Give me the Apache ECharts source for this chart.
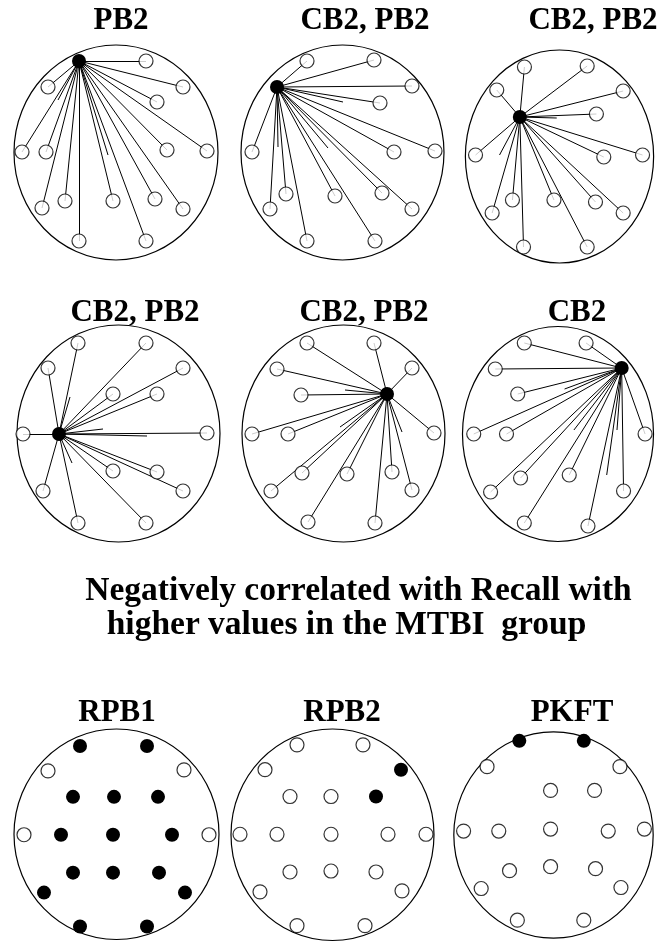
<!DOCTYPE html>
<html><head><meta charset="utf-8">
<script src="https://cdn.jsdelivr.net/npm/echarts@6/dist/echarts.min.js"></script>
<style>html,body{margin:0;padding:0;background:#fff;overflow:hidden}#c{width:661px;height:944px}</style>
</head><body><div id="c"></div>
<script>
// ---------------- DATA (electrode positions, head-centred units) ----------------
const panelTitles = ['PB2', 'CB2, PB2', 'CB2, PB2', 'CB2, PB2', 'CB2, PB2', 'CB2', 'RPB1', 'RPB2', 'PKFT'];
const captionLines = ['Negatively correlated with Recall with', 'higher values in the MTBI  group'];
const headRadii = [[102,107.5],[101.5,107.5],[102,106.5],[101.5,108.5],[101.5,108.5],[102,107.5],[102.5,105.5],[101.5,106.5],[102,104]];

// connectivity panels: hub electrode, connected electrodes, unfinished strokes
const hubs = [[-37,91.5],[-65.5,65.5],[-43,39.5],[-59.5,-0.5],[43.5,39.5],[68,66]];
const targets1 = [[30,91.5],[-68,65.5],[67,65.5],[41,50.5],[-94,0.5],[-70,0.5],[51,2.5],[91,1.5],[-74,-55.5],[-51,-48.5],[-3,-48.5],[39,-46.5],[67,-56.5],[-37,-88.5],[30,-88.5]];
const targets2 = [[-35.5,91.5],[31.5,92.5],[69.5,66.5],[37.5,49.5],[-90.5,0.5],[51.5,0.5],[92.5,1.5],[-72.5,-56.5],[-56.5,-41.5],[-7.5,-43.5],[39.5,-40.5],[69.5,-56.5],[-35.5,-88.5],[32.5,-88.5]];
const targets3 = [[-38,89.5],[30,90.5],[-68,66.5],[69,65.5],[40,42.5],[-91,1.5],[48,-0.5],[90,1.5],[-73,-56.5],[-51,-43.5],[-6,-43.5],[39,-45.5],[69,-56.5],[-39,-90.5],[30,-90.5]];
const targets4 = [[-40.5,90.5],[27.5,90.5],[-70.5,65.5],[64.5,65.5],[-5.5,39.5],[38.5,39.5],[-95.5,-0.5],[88.5,0.5],[-5.5,-37.5],[38.5,-38.5],[-75.5,-57.5],[64.5,-57.5],[-40.5,-89.5],[27.5,-89.5]];
const targets5 = [[-36.5,90.5],[30.5,90.5],[-66.5,64.5],[68.5,65.5],[-42.5,38.5],[-91.5,-0.5],[-55.5,-0.5],[90.5,0.5],[-41.5,-39.5],[3.5,-40.5],[48.5,-38.5],[-72.5,-57.5],[68.5,-56.5],[-35.5,-88.5],[31.5,-89.5]];
const targets6 = [[-36,91],[30,91],[-67,65],[-43,40],[-90,0],[-55,0],[93,0],[-40,-44],[12,-41],[-72,-58],[70,-57],[-36,-89],[32,-92]];
const stubs1 = [[-58,52.5],[-8,-2.5]];
const stubs2 = [[0.5,50.5],[-64.5,5.5],[-14.5,4.5]];
const stubs3 = [[-3,38.5],[-65,1.5]];
const stubs4 = [[-48.5,36.5],[-15.5,4.5],[28.5,-2.5],[-46.5,-29.5]];
const stubs5 = [[1.5,43.5],[-3.5,6.5],[58.5,1.5]];
const stubs6 = [[7,45],[17,4],[52,-41],[63,4]];

// significance panels: filled = significant electrode, empty = not significant
const filled7 = [[-36.5,88.5],[30.5,88.5],[-43.5,37.5],[-2.5,37.5],[41.5,37.5],[-55.5,-0.5],[-3.5,-0.5],[55.5,-0.5],[-43.5,-38.5],[-3.5,-38.5],[42.5,-38.5],[-72.5,-58.5],[68.5,-58.5],[-36.5,-92.5],[30.5,-92.5]];
const empty7 = [[-68.5,63.5],[67.5,64.5],[-92.5,-0.5],[92.5,-0.5]];
const filled8 = [[68.5,65.5],[43.5,38.5]];
const empty8 = [[-35.5,90.5],[30.5,90.5],[-67.5,65.5],[-42.5,38.5],[-1.5,38.5],[-92.5,0.5],[-55.5,0.5],[-1.5,0.5],[55.5,0.5],[93.5,0.5],[-42.5,-37.5],[-1.5,-36.5],[43.5,-37.5],[-72.5,-57.5],[69.5,-56.5],[-35.5,-91.5],[32.5,-91.5]];
const filled9 = [[-35,95],[31,95]];
const empty9 = [[-68,69],[68,69],[-3,45],[42,45],[-92,4],[-56,4],[-3,6],[56,4],[93,6],[-45,-36],[-3,-32],[43,-34],[-74,-54],[69,-53],[-37,-86],[31,-86]];

// ---------------- LAYOUT ----------------
const panelCenters = [[116,152.5],[342.5,152.5],[568,156.5],[118.5,433.5],[343.5,433.5],[565,434],[116.5,834.5],[332.5,835.5],[556,836]];
const titlePos = [[121,20.5],[365,20.5],[593,20.5],[135,312.5],[364,312.5],[577,312.5],[117,713],[342,713],[572,713]];
const captionPos = [[358.5,591],[346.5,625]];
const EXT = 110;

const targets = [targets1,targets2,targets3,targets4,targets5,targets6];
const stubs = [stubs1,stubs2,stubs3,stubs4,stubs5,stubs6];
const filledSets = [filled7,filled8,filled9];
const emptySets = [empty7,empty8,empty9];

const grids = [], xAxes = [], yAxes = [], series = [];
panelCenters.forEach((c, i) => {
  grids.push({left: c[0]-EXT, top: c[1]-EXT, width: 2*EXT, height: 2*EXT, containLabel: false});
  xAxes.push({type:'value', gridIndex:i, min:-EXT, max:EXT, show:false});
  yAxes.push({type:'value', gridIndex:i, min:-EXT, max:EXT, show:false});
  const r = headRadii[i];
  series.push({
    type:'custom', xAxisIndex:i, yAxisIndex:i, silent:true, z:1,
    data:[[0,0]],
    renderItem:(params, api) => {
      const p = api.coord([api.value(0), api.value(1)]);
      const s = api.size([r[0], r[1]]);
      return {type:'ellipse', shape:{cx:p[0], cy:p[1], rx:s[0], ry:s[1]}, style:{fill:'none', stroke:'#000', lineWidth:1.2}};
    }
  });
});

const emptyStyle = {color:'#fff', borderColor:'#000', borderWidth:1.2};
for (let i = 0; i < 6; i++) {
  const h = hubs[i];
  const segs = targets[i].concat(stubs[i]).map(t => ({coords:[h, t]}));
  series.push({type:'lines', coordinateSystem:'cartesian2d', xAxisIndex:i, yAxisIndex:i, silent:true, z:2,
    data:segs, lineStyle:{color:'#000', width:1, opacity:1, curveness:0}, symbol:['none','none']});
  series.push({type:'scatter', xAxisIndex:i, yAxisIndex:i, silent:true, z:3, symbol:'circle', symbolSize:14,
    data:targets[i], itemStyle:emptyStyle});
  series.push({type:'scatter', xAxisIndex:i, yAxisIndex:i, silent:true, z:4, symbol:'circle', symbolSize:14,
    data:[h], itemStyle:{color:'#000', opacity:1}});
}
for (let k = 0; k < 3; k++) {
  const i = 6 + k;
  series.push({type:'scatter', xAxisIndex:i, yAxisIndex:i, silent:true, z:3, symbol:'circle', symbolSize:14,
    data:emptySets[k], itemStyle:emptyStyle});
  series.push({type:'scatter', xAxisIndex:i, yAxisIndex:i, silent:true, z:3, symbol:'circle', symbolSize:14,
    data:filledSets[k], itemStyle:{color:'#000', opacity:1}});
}

const graphics = [];
panelTitles.forEach((t, i) => {
  graphics.push({type:'text', x:titlePos[i][0], y:titlePos[i][1], silent:true,
    style:{text:t, align:'center', verticalAlign:'middle', fill:'#000', font:'bold 31px "Liberation Serif", "Times New Roman", serif'}});
});
captionLines.forEach((t, i) => {
  graphics.push({type:'text', x:captionPos[i][0], y:captionPos[i][1], silent:true,
    style:{text:t, align:'center', verticalAlign:'middle', fill:'#000', font:'bold 33.5px "Liberation Serif", "Times New Roman", serif'}});
});

const chart = echarts.init(document.getElementById('c'), null, {renderer:'canvas'});
chart.setOption({
  animation:false,
  backgroundColor:'#fff',
  grid:grids, xAxis:xAxes, yAxis:yAxes, series:series, graphic:graphics
});
</script></body></html>
